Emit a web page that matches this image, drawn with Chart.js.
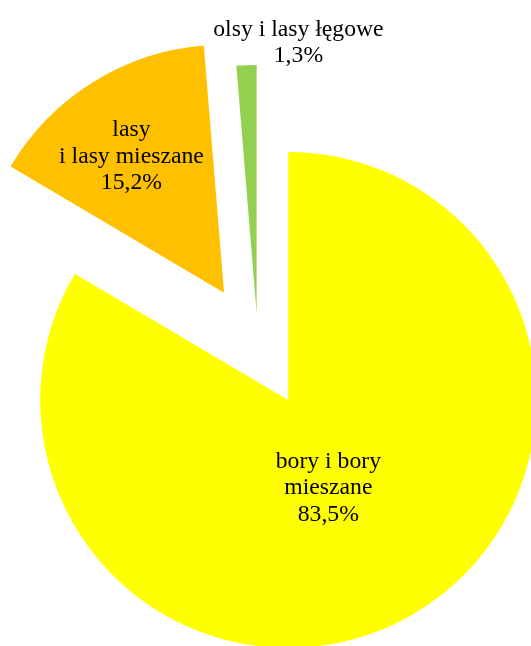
<html>
 <head>
   <meta charset="utf-8" />
   <title>Struktura siedlisk</title>
   <style>
     body { margin: 0; background: #fff; }
     #pie { display: block; }
   </style>
 </head>

 <body>
<canvas id="pie" width="531" height="646"></canvas>

<script src="https://cdn.jsdelivr.net/npm/chart.js"></script>
<script>

// habitat types and their share (%)
var categories = [['bory i bory', 'mieszane'], ['lasy', 'i lasy mieszane'], ['olsy i lasy łęgowe']];
var shares = [83.5, 15.2, 1.3];
var colors = ['#ffff00', '#ffc000', '#92d050'];

// how far each slice is pulled out from the centre (px)
var explode = [61, 64, 34];
// label place: angle from 12 o'clock (deg) and distance as part of radius
var labelAngle = [154.8, 326.4, 8.7];
var labelDist = [0.38, 0.675, 1.115];

// pull slices outward along their middle angle
var explodePlugin = {
  id: 'explode',
  afterDatasetUpdate: function(chart, args) {
    var arcs = args.meta.data;
    for (var i = 0; i < arcs.length; i++) {
      var mid = (arcs[i].startAngle + arcs[i].endAngle) / 2;
      arcs[i].x += explode[i] * Math.cos(mid);
      arcs[i].y += explode[i] * Math.sin(mid);
    }
  }
};

// text labels with category name and percent
var labelPlugin = {
  id: 'sliceLabels',
  afterDatasetsDraw: function(chart) {
    var ctx = chart.ctx;
    var arcs = chart.getDatasetMeta(0).data;
    ctx.save();
    ctx.font = '23.7px "Liberation Serif", "Times New Roman", serif';
    ctx.fillStyle = '#000';
    ctx.textAlign = 'center';
    ctx.textBaseline = 'middle';
    var lh = 26.7;
    for (var i = 0; i < arcs.length; i++) {
      var a = (labelAngle[i] - 90) * Math.PI / 180;
      var r = arcs[i].outerRadius * labelDist[i];
      var cx = arcs[i].x + r * Math.cos(a);
      var cy = arcs[i].y + r * Math.sin(a) + 3;
      var lines = categories[i].concat([String(shares[i]).replace('.', ',') + '%']);
      var y0 = cy - (lines.length - 1) / 2 * lh;
      for (var j = 0; j < lines.length; j++) {
        ctx.fillText(lines[j], cx, y0 + j * lh);
      }
    }
    ctx.restore();
  }
};

var ctx = document.getElementById('pie');
var data = {
    labels: categories.map(function(c) { return c.join(' '); }),
    datasets: [{
        data: shares,
        backgroundColor: colors,
        borderWidth: 0
    }]
};

var options = {
    responsive: false,
    animation: false,
    radius: 248,
    layout: { padding: { left: 0, right: 15, top: 48, bottom: 0 } },
    plugins: {
        legend: { display: false },
        tooltip: { enabled: false }
    },
    events: []
};

var pie_chart = new Chart(ctx, {
    type: 'pie',
    data: data,
    options: options,
    plugins: [explodePlugin, labelPlugin]
});

</script>
</body>
</html>
